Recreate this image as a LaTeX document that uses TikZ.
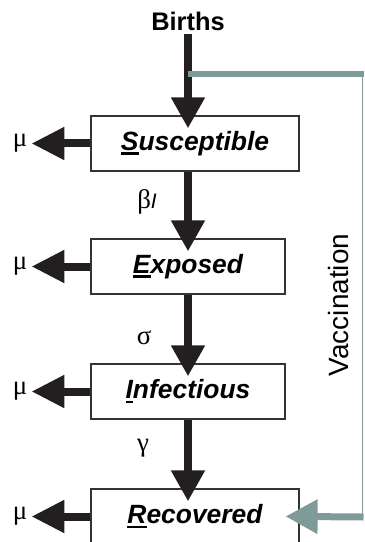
\documentclass[tikz,border=0pt]{standalone}
\usepackage{fontspec}
\setmainfont{Liberation Sans}
\newfontfamily\greekfont{Liberation Serif}
\usetikzlibrary{arrows.meta,positioning}
\definecolor{ink}{HTML}{231F20}
\definecolor{vacgray}{RGB}{127,155,153}
% first letter underlined, as in the compartment names
\newcommand{\firstul}[1]{\setbox0\hbox{#1}\rlap{\rule[-4.5bp]{\wd0}{2.8bp}}#1}

\begin{document}
\begin{tikzpicture}[x=1bp,y=-1bp,
  box/.style={draw=black!80,line width=1.2bp,minimum height=55bp,inner sep=0pt,
    font=\fontsize{26.5}{26.5}\selectfont\bfseries\itshape},
  fl/.style={draw=ink,line width=8bp,-{Triangle[length=31bp,width=32bp]},shorten >=-13bp},
  death/.style={draw=ink,line width=8bp,-{Triangle[length=33bp,width=31bp]}},
  vac/.style={draw=vacgray,line width=6.5bp},
  lab/.style={font=\greekfont\fontsize{27}{27}\selectfont,inner sep=0pt}]
  \useasboundingbox (0,0) rectangle (364,542);
  % compartments
  \node[box,minimum width=208bp] (sus) at (195,143.5) {\firstul{S}usceptible};
  \node[box,minimum width=194bp] (exp) at (188,266.5) {\firstul{E}xposed};
  \node[box,minimum width=194bp] (inf) at (188,391.5) {\firstul{I}nfectious};
  \node[box,minimum width=208bp] (rec) at (195,516.5) {\firstul{R}ecovered};
  \node[font=\fontsize{25.5}{25.5}\selectfont\bfseries,inner sep=3bp] (births) at (188,21) {Births};
  % rates
  \node[lab] (beta) at (147,202) {β{\normalfont\itshape\fontsize{21}{21}\selectfont I}};
  \node[lab] (sigma) at (144,338) {σ};
  \node[lab] (gamma) at (143,448) {γ};
  \foreach \c in {sus,exp,inf,rec}
    \node[lab,inner sep=4bp] (mu\c) at (20,0 |- \c.center) {μ};
  % flows
  \draw[fl] (births.south) -- (sus.north -| births.south);
  \draw[fl] (sus.south -| births.south) -- (exp.north);
  \draw[fl] (exp.south) -- (inf.north);
  \draw[fl] (inf.south) -- (rec.north -| births.south);
  \foreach \c in {sus,exp,inf,rec}
    \draw[death] (\c.west) -- (mu\c.east);
  % vaccination
  \coordinate (vjoin) at (188,74);
  \coordinate (vt) at (362.5,74);
  \coordinate (vb) at (362.5,517);
  \draw[vac] (vjoin) -- ([xshift=1bp]vt);
  \draw[draw=vacgray,line width=1.6bp] (vt) -- (vb);
  \draw[vac,line width=7bp,-{Triangle[length=32bp,width=33bp]},shorten >=-14bp]
    ([xshift=1bp]vb) -- (rec.east);
  \node[rotate=90,font=\fontsize{28}{28}\selectfont] (vaclab) at (339,305) {Vaccination};
\end{tikzpicture}
\end{document}
